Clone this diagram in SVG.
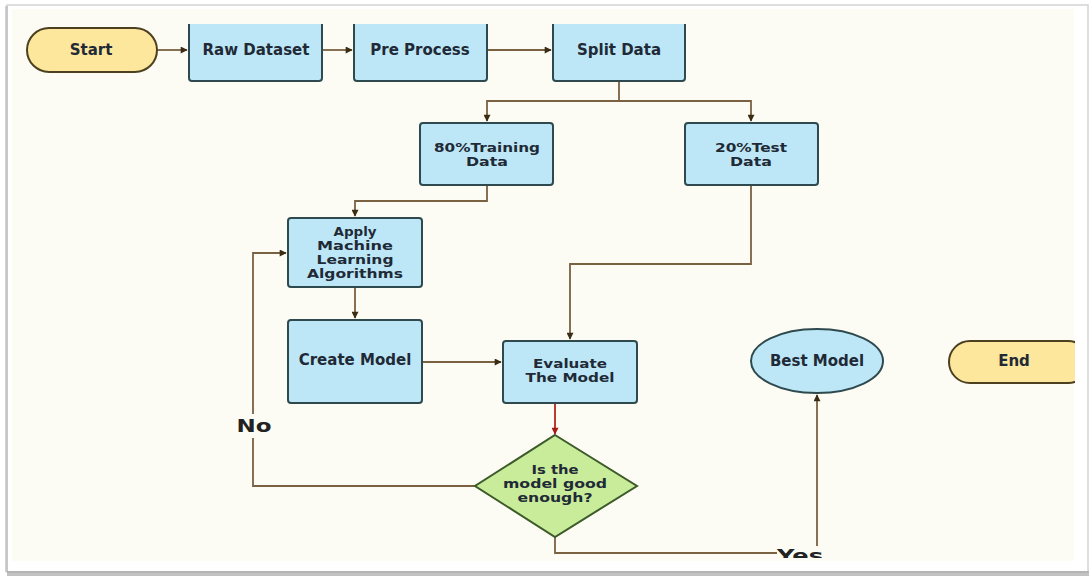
<svg xmlns="http://www.w3.org/2000/svg" width="1091" height="578" viewBox="0 0 1091 578">
<style>
.box{fill:#bde7f6;stroke:#2e4a4e;stroke-width:2}
.term{fill:#fce79d;stroke:#4d4020;stroke-width:2}
.dec{fill:#c9ec9a;stroke:#3d5a2a;stroke-width:2}
.lbl{font-family:"DejaVu Sans",Verdana,sans-serif;font-weight:bold;font-size:15px;fill:#1f2a36;text-anchor:middle}
.sm{font-family:"DejaVu Sans",Verdana,sans-serif;font-weight:bold;font-size:12px;fill:#1f2a36;text-anchor:middle}
.big{font-family:"DejaVu Sans",Verdana,sans-serif;font-weight:bold;font-size:18px;fill:#222;text-anchor:middle}
.con{fill:none;stroke:#7a6142;stroke-width:1.8}
.red{fill:none;stroke:#b3261e;stroke-width:1.8}
</style>
<defs>
<marker id="ah" viewBox="0 0 10 10" refX="9" refY="5" markerWidth="8" markerHeight="7" markerUnits="userSpaceOnUse" orient="auto">
<path d="M0,0 L10,5 L0,10 z" fill="#3b2c14"/>
</marker>
<marker id="ahr" viewBox="0 0 10 10" refX="9" refY="5" markerWidth="8" markerHeight="7" markerUnits="userSpaceOnUse" orient="auto">
<path d="M0,0 L10,5 L0,10 z" fill="#a31d17"/>
</marker>
<clipPath id="area"><rect x="0" y="24" width="1075" height="534"/></clipPath>
</defs>
<rect x="0" y="0" width="1091" height="578" fill="#ffffff"/>
<rect x="7" y="5" width="1081" height="567" fill="#ffffff" stroke="#d4d4d4" stroke-width="1.5"/>
<rect x="5" y="6" width="3" height="566" fill="#bdbdbd" opacity="0.7"/>
<rect x="7" y="571" width="1082" height="5" fill="#9a9a9a" opacity="0.6"/>
<rect x="12" y="9" width="1062" height="552" fill="#fdfcf4"/>
<g clip-path="url(#area)">
<g id="connectors">
<path class="con" d="M157,50 H187" marker-end="url(#ah)"/>
<path class="con" d="M322,50 H352" marker-end="url(#ah)"/>
<path class="con" d="M487,50 H551" marker-end="url(#ah)"/>
<path class="con" d="M619,81 V101 H487 V121" marker-end="url(#ah)"/>
<path class="con" d="M619,101 H751 V121" marker-end="url(#ah)"/>
<path class="con" d="M487,185 V201 H355 V216" marker-end="url(#ah)"/>
<path class="con" d="M355,287 V318" marker-end="url(#ah)"/>
<path class="con" d="M422,362 H501" marker-end="url(#ah)"/>
<path class="con" d="M751,185 V264 H570 V339" marker-end="url(#ah)"/>
<path class="red" d="M555,403 V434" marker-end="url(#ahr)"/>
<path class="con" d="M475,486 H253 V438"/>
<path class="con" d="M253,414 V253 H286" marker-end="url(#ah)"/>
<path class="con" d="M555,537 V553 H777"/>
<path class="con" d="M817,546 V395" marker-end="url(#ah)"/>
<text class="big" x="254" y="432" textLength="35" lengthAdjust="spacingAndGlyphs">No</text>
<text class="big" x="800" y="562" textLength="46" lengthAdjust="spacingAndGlyphs">Yes</text>
</g>
<g id="start"><rect class="term" x="27" y="28" width="130" height="44" rx="22"/><text class="lbl" x="91" y="55">Start</text></g>
<g id="raw"><rect class="box" x="189" y="14" width="133" height="67" rx="3"/><text class="lbl" x="256" y="55">Raw Dataset</text></g>
<g id="pre"><rect class="box" x="354" y="14" width="133" height="67" rx="3"/><text class="lbl" x="420" y="55">Pre Process</text></g>
<g id="split"><rect class="box" x="553" y="14" width="132" height="67" rx="3"/><text class="lbl" x="619" y="55">Split Data</text></g>
<g id="train"><rect class="box" x="420" y="123" width="133" height="62" rx="3"/><text class="sm" x="487" y="152" textLength="106" lengthAdjust="spacingAndGlyphs">80%Training</text><text class="sm" x="487" y="166" textLength="42" lengthAdjust="spacingAndGlyphs">Data</text></g>
<g id="test"><rect class="box" x="685" y="123" width="133" height="62" rx="3"/><text class="sm" x="751" y="152" textLength="72" lengthAdjust="spacingAndGlyphs">20%Test</text><text class="sm" x="751" y="166" textLength="42" lengthAdjust="spacingAndGlyphs">Data</text></g>
<g id="apply"><rect class="box" x="288" y="218" width="134" height="69" rx="3"/><text class="sm" x="355" y="236" textLength="43" lengthAdjust="spacingAndGlyphs">Apply</text><text class="sm" x="355" y="250" textLength="76" lengthAdjust="spacingAndGlyphs">Machine</text><text class="sm" x="355" y="264" textLength="77" lengthAdjust="spacingAndGlyphs">Learning</text><text class="sm" x="355" y="278" textLength="96" lengthAdjust="spacingAndGlyphs">Algorithms</text></g>
<g id="create"><rect class="box" x="288" y="320" width="134" height="83" rx="3"/><text class="lbl" x="355" y="365">Create Model</text></g>
<g id="evaluate"><rect class="box" x="503" y="341" width="134" height="62" rx="3"/><text class="sm" x="570" y="368" textLength="74" lengthAdjust="spacingAndGlyphs">Evaluate</text><text class="sm" x="570" y="382" textLength="89" lengthAdjust="spacingAndGlyphs">The Model</text></g>
<g id="decision"><path class="dec" d="M555,435 L637,486 L555,537 L475,486 Z"/><text class="sm" x="555" y="474" textLength="47" lengthAdjust="spacingAndGlyphs">Is the</text><text class="sm" x="555" y="488" textLength="104" lengthAdjust="spacingAndGlyphs">model good</text><text class="sm" x="555" y="502" textLength="75" lengthAdjust="spacingAndGlyphs">enough?</text></g>
<g id="best"><ellipse class="box" cx="817" cy="361" rx="66" ry="32"/><text class="lbl" x="817" y="366">Best Model</text></g>
<g id="end"><rect class="term" x="949" y="341" width="140" height="42" rx="21"/><text class="lbl" x="1014" y="366">End</text></g>
</g>
</svg>
